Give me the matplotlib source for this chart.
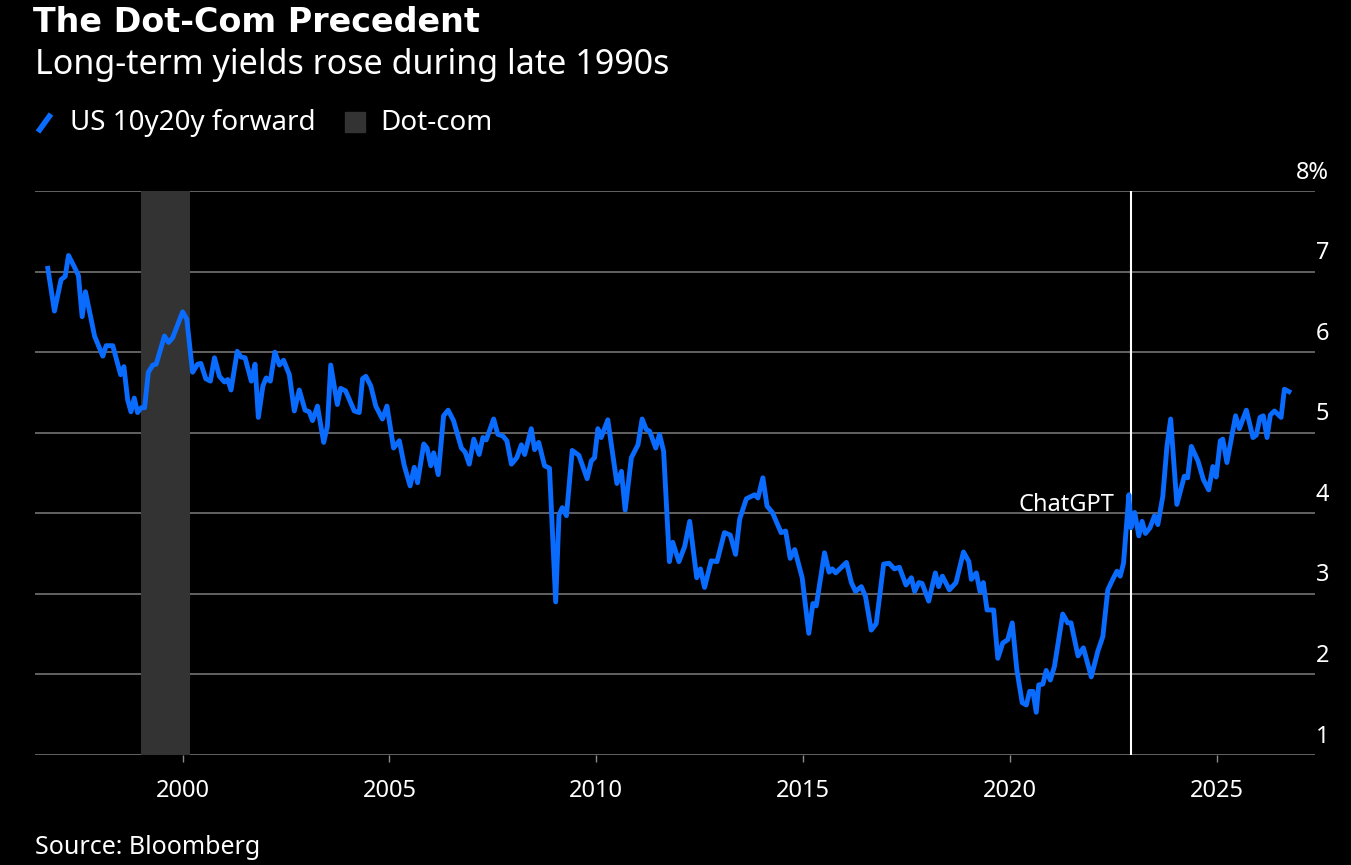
import matplotlib; matplotlib.use('Agg')
import matplotlib.pyplot as plt
import matplotlib.transforms as mtrans
from matplotlib.lines import Line2D

years = [1996.74,1996.9,1997.06,1997.16,1997.24,1997.37,1997.48,1997.57,1997.65,1997.87,1998.07,1998.15,1998.31,
    1998.5,1998.58,1998.67,1998.75,1998.83,1998.91,1999.0,1999.08,1999.17,1999.28,1999.36,1999.56,1999.66,1999.76,
    2000.0,2000.1,2000.24,2000.36,2000.44,2000.56,2000.67,2000.77,2000.89,2001.01,2001.09,2001.17,2001.32,2001.41,
    2001.51,2001.66,2001.75,2001.83,2001.94,2002.02,2002.12,2002.23,2002.34,2002.44,2002.58,2002.7,2002.82,2002.96,
    2003.06,2003.14,2003.26,2003.41,2003.5,2003.58,2003.74,2003.82,2003.94,2004.15,2004.27,2004.35,2004.43,2004.55,
    2004.67,2004.83,2004.94,2005.1,2005.24,2005.36,2005.5,2005.6,2005.68,2005.83,2005.91,2006.0,2006.07,2006.18,
    2006.31,2006.42,2006.55,2006.74,2006.83,2006.93,2007.04,2007.17,2007.26,2007.34,2007.52,2007.62,2007.74,2007.84,
    2007.95,2008.08,2008.19,2008.27,2008.43,2008.51,2008.61,2008.75,2008.87,2009.02,2009.1,2009.18,2009.28,2009.42,
    2009.58,2009.78,2009.88,2009.96,2010.04,2010.12,2010.28,2010.5,2010.61,2010.7,2010.85,2011.01,2011.11,2011.21,
    2011.29,2011.44,2011.53,2011.63,2011.77,2011.85,2012.0,2012.14,2012.26,2012.43,2012.52,2012.62,2012.78,2012.92,
    2013.1,2013.24,2013.37,2013.47,2013.63,2013.83,2013.91,2014.03,2014.13,2014.26,2014.47,2014.58,2014.69,2014.8,
    2014.98,2015.14,2015.24,2015.32,2015.52,2015.63,2015.71,2015.79,2016.05,2016.17,2016.27,2016.41,2016.51,2016.65,
    2016.77,2016.95,2017.08,2017.21,2017.33,2017.49,2017.62,2017.7,2017.8,2017.88,2018.04,2018.2,2018.28,2018.37,
    2018.54,2018.7,2018.88,2019.01,2019.07,2019.19,2019.28,2019.36,2019.45,2019.61,2019.71,2019.83,2019.95,2020.06,
    2020.17,2020.3,2020.4,2020.48,2020.56,2020.64,2020.7,2020.8,2020.88,2020.98,2021.08,2021.28,2021.4,2021.48,
    2021.65,2021.78,2021.97,2022.13,2022.25,2022.37,2022.49,2022.59,2022.67,2022.75,2022.88,2022.93,2023.02,2023.12,
    2023.2,2023.28,2023.39,2023.5,2023.58,2023.7,2023.8,2023.89,2024.04,2024.22,2024.3,2024.39,2024.55,2024.68,
    2024.81,2024.91,2024.99,2025.09,2025.15,2025.25,2025.46,2025.55,2025.72,2025.88,2025.96,2026.05,2026.13,2026.22,
    2026.3,2026.4,2026.56,2026.64,2026.75]
fwd = [7.04,6.51,6.9,6.94,7.2,7.07,6.95,6.44,6.75,6.2,5.95,6.08,6.08,
    5.72,5.82,5.41,5.26,5.43,5.25,5.31,5.31,5.75,5.84,5.85,6.2,6.12,6.18,
    6.5,6.41,5.75,5.85,5.86,5.67,5.64,5.93,5.7,5.63,5.66,5.53,6.01,5.94,
    5.93,5.64,5.85,5.19,5.58,5.68,5.64,6.0,5.84,5.9,5.72,5.27,5.53,5.28,
    5.26,5.15,5.33,4.88,5.08,5.84,5.35,5.55,5.52,5.27,5.25,5.67,5.7,5.58,
    5.33,5.17,5.33,4.81,4.9,4.59,4.34,4.57,4.38,4.86,4.81,4.59,4.75,4.48,
    5.21,5.28,5.15,4.81,4.76,4.61,4.92,4.73,4.94,4.91,5.17,4.98,4.96,4.9,
    4.61,4.69,4.85,4.73,5.05,4.79,4.88,4.59,4.56,2.9,3.98,4.07,3.97,4.78,
    4.72,4.43,4.65,4.69,5.05,4.94,5.16,4.37,4.52,4.04,4.69,4.85,5.17,5.04,
    5.02,4.81,4.98,4.77,3.4,3.64,3.4,3.59,3.9,3.2,3.31,3.08,3.41,3.4,
    3.76,3.73,3.49,3.93,4.18,4.23,4.19,4.44,4.09,4.01,3.76,3.78,3.44,3.55,
    3.2,2.51,2.88,2.85,3.51,3.27,3.31,3.26,3.39,3.14,3.03,3.09,2.97,2.55,
    2.63,3.37,3.38,3.31,3.33,3.11,3.2,3.03,3.14,3.13,2.91,3.26,3.09,3.22,
    3.05,3.14,3.52,3.4,3.18,3.26,3.03,3.14,2.8,2.8,2.2,2.39,2.43,2.64,
    2.06,1.65,1.62,1.79,1.79,1.53,1.87,1.88,2.05,1.93,2.1,2.75,2.64,2.64,
    2.23,2.33,1.97,2.29,2.47,3.05,3.18,3.28,3.22,3.38,4.23,3.82,4.01,3.72,
    3.9,3.75,3.82,3.97,3.86,4.21,4.83,5.17,4.11,4.46,4.44,4.83,4.65,4.42,
    4.29,4.58,4.45,4.9,4.92,4.63,5.21,5.05,5.28,4.94,4.97,5.19,5.21,4.94,
    5.22,5.27,5.19,5.54,5.51]
dotcom = (1999.0, 2000.17)
chatgpt = 2022.92
xticks = [2000, 2005, 2010, 2015, 2020, 2025]
yticks = [1, 2, 3, 4, 5, 6, 7, 8]

plt.rcParams['font.family'] = ['Noto Sans', 'DejaVu Sans']
BLUE = '#0a6cff'
fig = plt.figure(figsize=(13.51, 8.65), dpi=100, facecolor='black')
ax = fig.add_axes([35/1351, 1-755/865, 1280/1351, 564/865], facecolor='black')
ax.set_xlim(1996.43, 2027.38); ax.set_ylim(1, 8)
ax.axvspan(*dotcom, color='#333333', lw=0, zorder=1)
for v in yticks:
    ax.axhline(v, color='#6a6a6a', lw=1.3, zorder=0)
ax.axvline(chatgpt, color='white', lw=1.5, zorder=2)
ax.plot(years, fwd, color=BLUE, lw=3.5, zorder=3, solid_joinstyle='round')
ax.text(chatgpt - 0.4, 4.1, 'ChatGPT', color='white', fontsize=17, ha='right', va='center', zorder=4)
for s in ax.spines.values(): s.set_visible(False)
ax.set_yticks([])
ax.set_xticks(xticks)
ax.tick_params(axis='x', colors='white', labelsize=17, length=5, width=1, pad=12)
ax.tick_params(axis='x', color='#8a8a8a')
tr = mtrans.blended_transform_factory(ax.transAxes, ax.transData)
for v in yticks:
    ax.text(1.011, v + 0.08, f'{v}%' if v == 8 else str(v), transform=tr, color='white',
            fontsize=17, ha='right', va='bottom')
fig.text(33/1351, 1-22/865, 'The Dot-Com Precedent', color='white', fontsize=24,
         weight='bold', family='DejaVu Sans', va='center')
fig.text(35/1351, 1-65/865, 'Long-term yields rose during late 1990s', color='white', fontsize=24.5, va='center')
fig.add_artist(Line2D([38/1351, 51/1351], [1-132/865, 1-114/865], color=BLUE, lw=4,
                      solid_capstyle='butt', transform=fig.transFigure))
fig.text(70/1351, 1-123/865, 'US 10y20y forward', color='white', fontsize=20, va='center')
fig.patches.append(plt.Rectangle((345/1351, 1-132/865), 20/1351, 20/865, transform=fig.transFigure,
                                 color='#333333', figure=fig))
fig.text(380/1351, 1-123/865, 'Dot-com', color='white', fontsize=20, va='center')
fig.text(35/1351, 1-848/865, 'Source: Bloomberg', color='white', fontsize=18, va='center')
fig.savefig('out.png', dpi=100, facecolor='black')
